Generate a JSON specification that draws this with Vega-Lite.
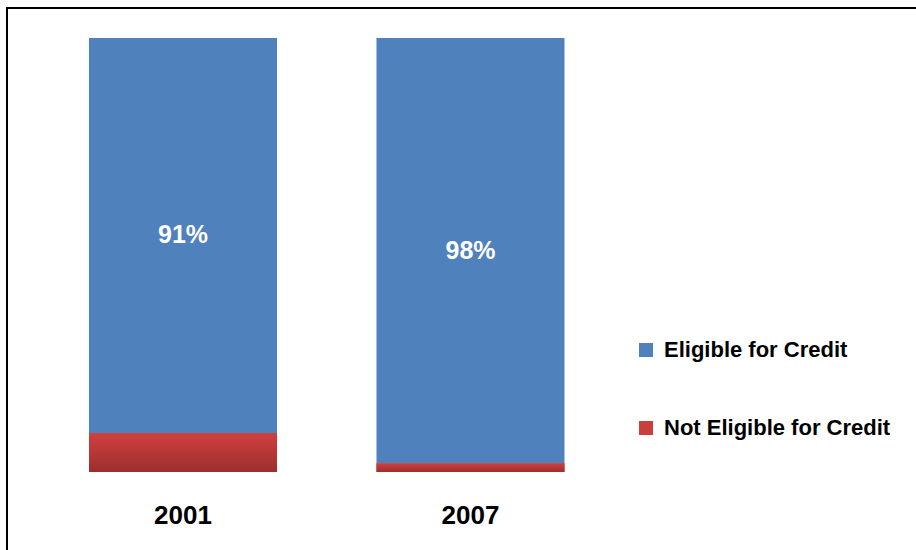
{
  "$schema": "https://vega.github.io/schema/vega-lite/v6.json",
  "width": 910,
  "height": 543,
  "autosize": {"type": "none"},
  "padding": {"left": 7, "top": 8, "right": 0, "bottom": 0},
  "background": "white",
  "config": {"view": {"stroke": "black", "strokeWidth": 2}, "font": "Liberation Sans"},
  "data": {
    "values": [
      {"year": "2001", "category": "Eligible for Credit", "value": 91, "order": 1, "label": "91%"},
      {"year": "2001", "category": "Not Eligible for Credit", "value": 9, "order": 0, "label": "9%"},
      {"year": "2007", "category": "Eligible for Credit", "value": 98, "order": 1, "label": "98%"},
      {"year": "2007", "category": "Not Eligible for Credit", "value": 2, "order": 0, "label": "2%"}
    ]
  },
  "transform": [
    {"stack": "value", "groupby": ["year"], "sort": [{"field": "order", "order": "ascending"}], "as": ["v0", "v1"]},
    {"calculate": "(datum.v0 + datum.v1) / 2", "as": "mid"}
  ],
  "encoding": {
    "x": {
      "field": "year",
      "type": "nominal",
      "scale": {"range": [82, 557.5], "paddingInner": 0.346, "paddingOuter": 0},
      "axis": {
        "title": null,
        "orient": "bottom",
        "offset": -49,
        "domain": false,
        "ticks": false,
        "grid": false,
        "labelPadding": 0,
        "labelFont": "Liberation Sans",
        "labelFontSize": 26,
        "labelFontWeight": "bold",
        "labelColor": "black",
        "labelBaseline": "top",
        "labelAngle": 0
      }
    }
  },
  "layer": [
    {
      "mark": {"type": "bar"},
      "encoding": {
        "y": {"field": "v0", "type": "quantitative", "scale": {"domain": [0, 100], "range": [464, 30]}, "axis": null},
        "y2": {"field": "v1"},
        "color": {
          "field": "category",
          "type": "nominal",
          "scale": {"domain": ["Eligible for Credit", "Not Eligible for Credit"], "range": ["#4F81BD", "#C8403D"]},
          "legend": {
            "orient": "none",
            "legendX": 628,
            "legendY": 331,
            "title": null,
            "symbolType": "square",
            "symbolSize": 196,
            "symbolStrokeWidth": 0,
            "symbolOpacity": 1,
            "labelFont": "Liberation Sans",
            "labelFontSize": 22,
            "labelFontWeight": "bold",
            "labelColor": "black",
            "labelOffset": 7,
            "rowPadding": 56,
            "padding": 0,
            "labelLimit": 400
          }
        }
      }
    },
    {
      "transform": [{"filter": "datum.category == 'Not Eligible for Credit'"}],
      "mark": {
        "type": "bar",
        "fill": {"gradient": "linear", "x1": 0, "y1": 0, "x2": 0, "y2": 1, "stops": [{"offset": 0, "color": "#D1403D"}, {"offset": 1, "color": "#9C2F2E"}]}
      },
      "encoding": {
        "y": {"field": "v0", "type": "quantitative"},
        "y2": {"field": "v1"}
      }
    },
    {
      "transform": [{"filter": "datum.category == 'Eligible for Credit'"}],
      "mark": {"type": "text", "color": "white", "fontSize": 25, "fontWeight": "bold", "font": "Liberation Sans", "baseline": "middle"},
      "encoding": {
        "y": {"field": "mid", "type": "quantitative"},
        "text": {"field": "label"}
      }
    }
  ]
}
